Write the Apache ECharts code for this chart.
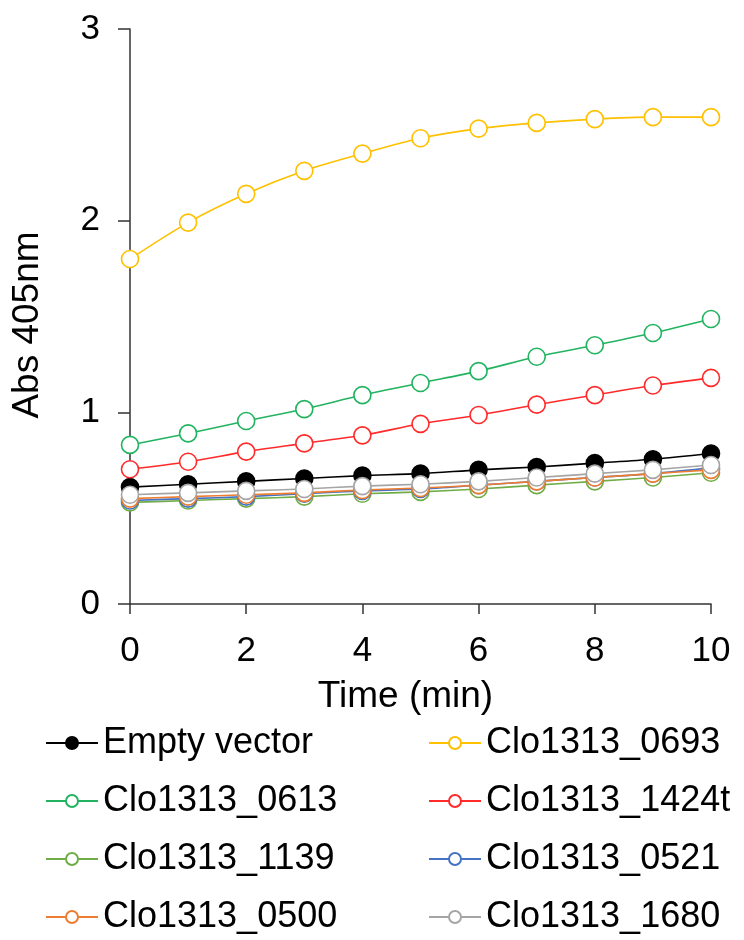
<!DOCTYPE html>
<html>
<head>
<meta charset="utf-8">
<script src="https://cdn.jsdelivr.net/npm/echarts@6/dist/echarts.min.js"></script>
<style>
  html, body { margin: 0; padding: 0; background: #fff; }
  #main { width: 744px; height: 940px; }
</style>
</head>
<body>
<div id="main"></div>
<script>
// time points (min)
var times = [0, 1, 2, 3, 4, 5, 6, 7, 8, 9, 10];

// Abs 405nm
var emptyVector = [0.61, 0.625, 0.64, 0.655, 0.67, 0.68, 0.70, 0.715, 0.735, 0.755, 0.785];
var clo0693 = [1.80, 1.99, 2.14, 2.26, 2.35, 2.43, 2.48, 2.51, 2.53, 2.54, 2.54];
var clo0613 = [0.83, 0.89, 0.955, 1.017, 1.09, 1.153, 1.215, 1.29, 1.35, 1.414, 1.487];
var clo1424t = [0.703, 0.742, 0.795, 0.838, 0.88, 0.94, 0.986, 1.04, 1.09, 1.14, 1.18];
var clo1139 = [0.53, 0.54, 0.55, 0.56, 0.575, 0.585, 0.60, 0.62, 0.64, 0.66, 0.685];
var clo0521 = [0.54, 0.55, 0.56, 0.575, 0.59, 0.60, 0.62, 0.64, 0.66, 0.68, 0.71];
var clo0500 = [0.55, 0.56, 0.57, 0.58, 0.595, 0.605, 0.62, 0.64, 0.66, 0.68, 0.70];
var clo1680 = [0.57, 0.58, 0.59, 0.60, 0.615, 0.625, 0.64, 0.66, 0.68, 0.70, 0.725];

var seriesNames = ['Empty vector', 'Clo1313_0693', 'Clo1313_0613', 'Clo1313_1424t',
    'Clo1313_1139', 'Clo1313_0521', 'Clo1313_0500', 'Clo1313_1680'];
var seriesData = [emptyVector, clo0693, clo0613, clo1424t, clo1139, clo0521, clo0500, clo1680];
var seriesColors = ['#000000', '#ffc000', '#21b35f', '#ff2a2a', '#70ad47', '#4472c4', '#ed7d31', '#a5a5a5'];

var fontName = 'Liberation Sans';

var chartDom = document.getElementById('main');
var myChart = echarts.init(chartDom);

function makeSeries(i) {
    var filled = i === 0; // 只有 Empty vector 是实心点
    return {
        name: seriesNames[i],
        type: 'line',
        data: times.map(function (t, k) { return [t, seriesData[i][k]]; }),
        smooth: 0.3,
        symbol: 'circle',
        symbolSize: 17,
        showAllSymbol: true,
        lineStyle: { color: seriesColors[i], width: 1.6 },
        itemStyle: {
            color: filled ? seriesColors[i] : '#ffffff',
            borderColor: seriesColors[i],
            borderWidth: 1.6
        },
        z: 2 + i,
        animation: false
    };
}

var legendBase = {
    orient: 'vertical',
    padding: 0,
    itemWidth: 52,
    itemHeight: 15,
    itemGap: 20,
    height: 215,
    textStyle: { fontFamily: fontName, fontSize: 36, color: '#000', lineHeight: 38 },
    selectedMode: false
};

var option = {
    backgroundColor: '#fff',
    grid: { left: 130, right: 33, top: 29, bottom: 336 },
    legend: [
        Object.assign({}, legendBase, { left: 45, top: 724, data: [seriesNames[0], seriesNames[2], seriesNames[4], seriesNames[6]] }),
        Object.assign({}, legendBase, { left: 428, top: 724, data: [seriesNames[1], seriesNames[3], seriesNames[5], seriesNames[7]] })
    ],
    xAxis: {
        type: 'value',
        min: 0,
        max: 10,
        interval: 2,
        name: 'Time (min)',
        nameLocation: 'middle',
        nameGap: 74,
        nameTextStyle: { fontFamily: fontName, fontSize: 37, color: '#000', padding: [0, 30, 0, 0] },
        splitLine: { show: false },
        axisLine: { show: true, lineStyle: { color: '#333', width: 1.5 } },
        axisTick: { show: true, inside: false, length: 10, lineStyle: { color: '#333', width: 1.5 } },
        axisLabel: { fontFamily: fontName, fontSize: 35, color: '#000', margin: 30 }
    },
    yAxis: {
        type: 'value',
        min: 0,
        max: 3,
        interval: 1,
        name: 'Abs 405nm',
        nameLocation: 'middle',
        nameGap: 84,
        nameTextStyle: { fontFamily: fontName, fontSize: 37, color: '#000', padding: [0, 17, 0, 0] },
        splitLine: { show: false },
        axisLine: { show: true, lineStyle: { color: '#333', width: 1.5 } },
        axisTick: { show: true, inside: false, length: 12, lineStyle: { color: '#333', width: 1.5 } },
        axisLabel: { fontFamily: fontName, fontSize: 35, color: '#000', margin: 30 }
    },
    series: seriesNames.map(function (n, i) { return makeSeries(i); })
};

myChart.setOption(option);
</script>
</body>
</html>
